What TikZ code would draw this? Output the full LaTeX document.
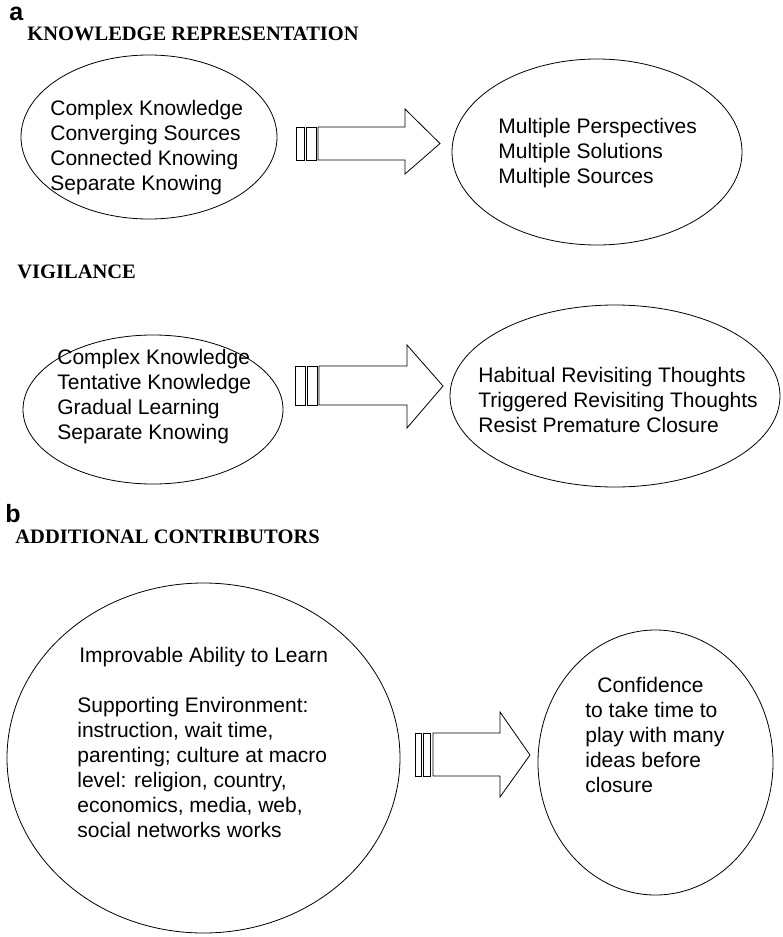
\documentclass[tikz,border=0pt]{standalone}
\usepackage{fontspec}
\setmainfont{Liberation Sans}
\newfontfamily\headfont{Liberation Serif}
\usetikzlibrary{shapes.geometric}
\begin{document}
\begin{tikzpicture}[x=1pt,y=-1pt,line width=0.8pt,
  oval/.style={draw,ellipse,inner sep=0pt},
  body/.style={align=left,inner sep=0pt,anchor=base west,font=\fontsize{21}{25}\selectfont},
  heading/.style={inner sep=0pt,anchor=base west,font=\headfont\bfseries\fontsize{20.5}{24}\selectfont},
  panel/.style={inner sep=0pt,anchor=base west,font=\bfseries\fontsize{25}{28}\selectfont},
  blk/.style={draw,line join=miter}]
\useasboundingbox (0,0) rectangle (782,937);
% headings
\node[panel] (pa) at (9,20) {a};
\node[heading] (h1) at (27,40) {KNOWLEDGE REPRESENTATION};
\node[heading] (h2) at (17,278) {VIGILANCE};
\node[panel] (pb) at (5,522) {b};
\node[heading] (h3) at (15,543) {ADDITIONAL CONTRIBUTORS};
% ellipses
\node[oval,minimum width=256pt,minimum height=164pt] (e1) at (149,137) {};
\node[oval,minimum width=290pt,minimum height=186pt] (e2) at (597,152) {};
\node[oval,minimum width=260pt,minimum height=149pt] (e3) at (153,409.5) {};
\node[oval,minimum width=330pt,minimum height=182pt] (e4) at (615,396) {};
\node[oval,minimum width=393pt,minimum height=350pt] (e5) at (203.5,758) {};
\node[oval,minimum width=235pt,minimum height=265pt] (e6) at (655.5,762.5) {};
% texts (anchor = baseline of last line)
\node[body] (t1) at (50,190) {Complex Knowledge\\Converging Sources\\Connected Knowing\\Separate Knowing};
\node[body] (t2) at (498,183) {Multiple Perspectives\\Multiple Solutions\\Multiple Sources};
\node[body] (t3) at (57,439) {Complex Knowledge\\Tentative Knowledge\\Gradual Learning\\Separate Knowing};
\node[body] (t4) at (478,432) {Habitual Revisiting Thoughts\\Triggered Revisiting Thoughts\\Resist Premature Closure};
\node[body] (t5a) at (79,662) {Improvable Ability to Learn};
\node[body] (t5b) at (77,837) {Supporting Environment:\\instruction, wait time,\\parenting; culture at macro\\level: religion, country,\\economics, media, web,\\social networks works};
\node[body] (t6a) at (597,692) {Confidence};
\node[body] (t6b) at (585,792) {to take time to\\play with many\\ideas before\\closure};
% block arrows
\draw[blk] (296,127) rectangle (304,160);
\draw[blk] (306,127) rectangle (316,160);
\draw[blk] (318,127) -- (405,127) -- (405,109) -- (440,143.5) -- (405,174) -- (405,160) -- (318,160) -- cycle;
\draw[blk] (295,366) rectangle (305,405);
\draw[blk] (307,366) rectangle (317,405);
\draw[blk] (319,366) -- (407,366) -- (407,345) -- (443,386) -- (407,428) -- (407,405) -- (319,405) -- cycle;
\draw[blk] (415,733) rectangle (421,776);
\draw[blk] (423,733) rectangle (430,776);
\draw[blk] (433,733) -- (500,733) -- (500,712) -- (530,755) -- (500,797) -- (500,776) -- (433,776) -- cycle;
\end{tikzpicture}
\end{document}
